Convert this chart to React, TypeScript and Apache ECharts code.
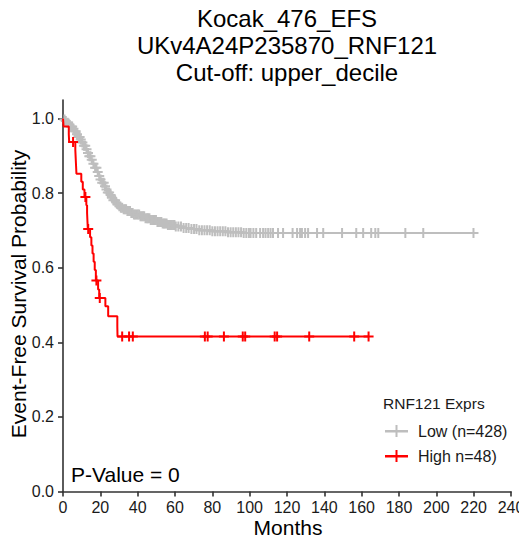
import React, { useEffect, useRef } from 'react';
import * as echarts from 'echarts';

// ---------- data ----------
const titleLines = ['Kocak_476_EFS', 'UKv4A24P235870_RNF121', 'Cut-off: upper_decile'];
const xTicks = [0, 20, 40, 60, 80, 100, 120, 140, 160, 180, 200, 220, 240];
const yTicks = [0, 0.2, 0.4, 0.6, 0.8, 1.0];
const legendTitle = 'RNF121 Exprs';
const lowName = 'Low (n=428)';
const highName = 'High n=48)';
const pValueText = 'P-Value = 0';

const lowEventTimes = [0.3, 1, 2, 3, 4, 5, 6, 7, 8, 9, 10, 11, 12, 13, 14, 15, 16, 17, 18, 19, 20, 21, 22, 23, 24, 25, 26, 27, 28, 29, 30, 31, 32, 34, 36, 38, 41, 44, 47, 50, 53, 56, 60, 64, 68, 73, 80, 88, 96];
const lowSurv = [0.998, 0.994, 0.989, 0.984, 0.979, 0.973, 0.966, 0.958, 0.951, 0.944, 0.936, 0.927, 0.918, 0.908, 0.899, 0.89, 0.879, 0.868, 0.857, 0.846, 0.837, 0.828, 0.819, 0.81, 0.802, 0.795, 0.788, 0.781, 0.775, 0.77, 0.765, 0.761, 0.757, 0.752, 0.747, 0.743, 0.738, 0.733, 0.728, 0.723, 0.719, 0.715, 0.711, 0.707, 0.704, 0.701, 0.698, 0.695, 0.693];
const lowCensorTimes = [0.8, 1.5, 2.5, 3.3, 4.2, 4.9, 5.6, 6.2, 6.8, 7.5, 8.3, 8.9, 9.5, 10.4, 11.2, 11.9, 12.6, 13.4, 14.1, 14.7, 15.4, 16.3, 17.2, 17.9, 18.6, 19.4, 20.1, 21, 21.8, 22.5, 23.3, 24, 24.7, 25.5, 26.2, 27, 27.9, 28.6, 29.4, 30.2, 31, 31.7, 32.5, 33.1, 33.8, 34.5, 35.2, 35.9, 36.6, 37.3, 38, 38.7, 39.4, 40.1, 40.8, 41.5, 42.1, 42.8, 43.5, 44.2, 45, 45.6, 46.3, 47, 47.7, 48.4, 49.1, 49.8, 50.6, 51.3, 52, 52.7, 53.4, 54.1, 54.8, 55.5, 56.2, 56.9, 57.5, 58.3, 59, 59.7, 60.4, 61.8, 63.2, 64.6, 66, 67.3, 68.8, 70.2, 71.5, 73, 74.4, 75.8, 77.2, 78.6, 80, 81.4, 82.8, 84.2, 85.6, 87, 88.4, 89.8, 91.2, 92.6, 94, 95.4, 96.8, 98.2, 99.6, 100.5, 102, 103.5, 105.6, 107.2, 108.5, 109.9, 111.2, 112.5, 115.2, 117.9, 123, 125.4, 127, 128, 129.7, 131.3, 136.1, 139.4, 149.5, 157.1, 160.8, 165.1, 167.3, 168.9, 183.4, 193, 219.9];

const highEventTimes = [0.3, 3.1, 3.3, 6.6, 6.8, 7.0, 7.2, 9.8, 10.6, 11.5, 12.5, 12.9, 13.1, 13.3, 14.5, 15.2, 15.8, 16.4, 17.0, 17.6, 18.8, 19.4, 22.7, 24.2, 29.1, 29.2];
const highSurv = [0.979, 0.958, 0.9375, 0.916, 0.894, 0.873, 0.852, 0.831, 0.81, 0.79, 0.768, 0.747, 0.725, 0.704, 0.682, 0.66, 0.638, 0.616, 0.594, 0.566, 0.542, 0.519, 0.497, 0.47, 0.443, 0.416];
const highCensorTimes = [5.4, 12.0, 13.5, 17.9, 19.7, 31.7, 35.4, 37.4, 76.0, 77.5, 86.2, 96.3, 97.6, 113.4, 114.7, 131.9, 156, 163.7];

// ---------- helpers ----------
function buildSteps(times: number[], surv: number[], endTime: number) {
  const pts: number[][] = [[0, 1]];
  let prev = 1;
  for (let i = 0; i < times.length; i++) {
    pts.push([times[i], prev]);
    pts.push([times[i], surv[i]]);
    prev = surv[i];
  }
  pts.push([endTime, prev]);
  return pts;
}
function survAt(times: number[], surv: number[], t: number) {
  let s = 1;
  for (let i = 0; i < times.length; i++) {
    if (times[i] <= t) s = surv[i];
  }
  return s;
}

const FONT = '"Liberation Sans", Arial, Helvetica, sans-serif';
const GRAY = '#BEBEBE';
const RED = '#FF0000';
const TEXT = '#1a1a1a';
const PLUS = 'path://M4,0h2v4h4v2h-4v4h-2v-4h-4v-2h4z';
const LEG_ICON = 'path://M0,5h10.5v-5h2v5h10.5v2.5h-10.5v4.5h-2v-4.5h-10.5z';

export default function App() {
  const ref = useRef<HTMLDivElement>(null);
  useEffect(() => {
    const chart = echarts.init(ref.current!, null, { renderer: 'svg' });
    const lowEnd = Math.max(...lowCensorTimes);
    const highEnd = Math.max(...highCensorTimes);
    const option: any = {
      animation: false,
      textStyle: { fontFamily: FONT },
      grid: { left: 63, right: 8, top: 100, bottom: 47.5, containLabel: false, outerBoundsMode: 'none' },
      xAxis: {
        type: 'value',
        min: xTicks[0],
        max: xTicks[xTicks.length - 1],
        interval: 20,
        axisLine: { show: true, lineStyle: { color: '#333', width: 1.6 } },
        axisTick: { show: true, length: 5, lineStyle: { color: '#333', width: 1.6 } },
        axisLabel: { fontSize: 16, color: TEXT, margin: 8, fontFamily: FONT, showMaxLabel: true, hideOverlap: false },
        splitLine: { show: false },
      },
      yAxis: {
        type: 'value',
        min: 0,
        max: 1.05,
        axisLine: { show: true, lineStyle: { color: '#333', width: 1.6 } },
        axisTick: { show: true, length: 5, customValues: yTicks, lineStyle: { color: '#333', width: 1.6 } },
        axisLabel: {
          fontSize: 16, color: TEXT, margin: 9, fontFamily: FONT,
          customValues: yTicks,
          formatter: (v: number) => v.toFixed(1),
        },
        splitLine: { show: false },
      },
      legend: {
        orient: 'vertical',
        left: 385,
        top: 423,
        padding: 0,
        itemWidth: 23,
        itemHeight: 12,
        itemGap: 9,
        textStyle: { fontSize: 16, color: TEXT, fontFamily: FONT, padding: [0, 0, 0, 5] },
        data: [
          { name: lowName, icon: LEG_ICON },
          { name: highName, icon: LEG_ICON },
        ],
      },
      graphic: [
        ...titleLines.map((t, i) => ({
          type: 'text',
          x: 287,
          y: [18, 45.5, 72.5][i],
          style: { text: t, font: `24px ${FONT}`, fill: '#000', textAlign: 'center', textVerticalAlign: 'middle' },
        })),
        {
          type: 'text', x: 18, y: 294, rotation: Math.PI / 2,
          style: { text: 'Event-Free Survival Probability', font: `21px ${FONT}`, fill: '#000', textAlign: 'center', textVerticalAlign: 'middle' },
        },
        {
          type: 'text', x: 288, y: 527.5,
          style: { text: 'Months', font: `21px ${FONT}`, fill: '#000', textAlign: 'center', textVerticalAlign: 'middle' },
        },
        {
          type: 'text', x: 71, y: 474,
          style: { text: pValueText, font: `21px ${FONT}`, fill: '#000', textAlign: 'left', textVerticalAlign: 'middle' },
        },
        {
          type: 'text', x: 383, y: 403.5,
          style: { text: legendTitle, font: `15.5px ${FONT}`, fill: TEXT, textAlign: 'left', textVerticalAlign: 'middle' },
        },
      ],
      series: [
        {
          name: lowName, type: 'line', data: buildSteps(lowEventTimes, lowSurv, lowEnd),
          showSymbol: false, symbol: 'none', color: GRAY, itemStyle: { color: GRAY },
          lineStyle: { color: GRAY, width: 2 }, z: 2,
        },
        {
          name: 'low-censor', type: 'scatter', symbol: PLUS, symbolSize: 10,
          data: lowCensorTimes.map((t) => [t, survAt(lowEventTimes, lowSurv, t)]),
          itemStyle: { color: GRAY, opacity: 1 }, z: 2,
        },
        {
          name: highName, type: 'line', data: buildSteps(highEventTimes, highSurv, highEnd),
          showSymbol: false, symbol: 'none', color: RED, itemStyle: { color: RED },
          lineStyle: { color: RED, width: 2 }, z: 3,
        },
        {
          name: 'high-censor', type: 'scatter', symbol: PLUS, symbolSize: 10,
          data: highCensorTimes.map((t) => [t, survAt(highEventTimes, highSurv, t)]),
          itemStyle: { color: RED, opacity: 1 }, z: 3,
        },
      ],
    };
    chart.setOption(option);
    return () => chart.dispose();
  }, []);
  return <div ref={ref} style={{ position: 'absolute', left: 0, top: 0, width: 519, height: 539 }} />;
}
